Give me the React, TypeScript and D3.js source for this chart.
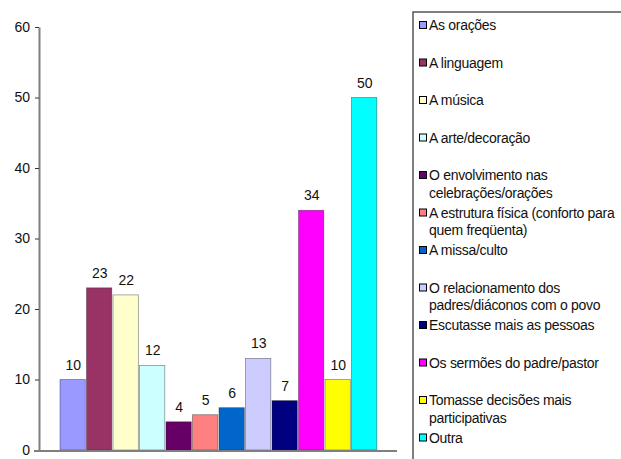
import React, { useEffect, useRef } from 'react';
import * as d3 from 'd3';

const categories = [
  'As orações',
  'A linguagem',
  'A música',
  'A arte/decoração',
  'O envolvimento nas celebrações/orações',
  'A estrutura física (conforto para quem freqüenta)',
  'A missa/culto',
  'O relacionamento dos padres/diáconos com o povo',
  'Escutasse mais as pessoas',
  'Os sermões do padre/pastor',
  'Tomasse decisões mais participativas',
  'Outra',
];
const legendLines = [
  ['As orações'],
  ['A linguagem'],
  ['A música'],
  ['A arte/decoração'],
  ['O envolvimento nas', 'celebrações/orações'],
  ['A estrutura física (conforto para', 'quem freqüenta)'],
  ['A missa/culto'],
  ['O relacionamento dos', 'padres/diáconos com o povo'],
  ['Escutasse mais as pessoas'],
  ['Os sermões do padre/pastor'],
  ['Tomasse decisões mais', 'participativas'],
  ['Outra'],
];
const values = [10, 23, 22, 12, 4, 5, 6, 13, 7, 34, 10, 50];
const colors = [
  '#9999FF', '#993366', '#FFFFCC', '#CCFFFF', '#660066', '#FF8080',
  '#0066CC', '#CCCCFF', '#000080', '#FF00FF', '#FFFF00', '#00FFFF',
];
const yTicks = [0, 10, 20, 30, 40, 50, 60];

const W = 621;
const H = 459;
const FONT = '"Liberation Sans", Arial, sans-serif';

const App: React.FC = () => {
  const svgRef = useRef<SVGSVGElement>(null);

  useEffect(() => {
    if (!svgRef.current) return;
    const svg = d3.select(svgRef.current);
    svg.selectAll('*').remove();

    const x = d3.scaleBand<string>().domain(categories).range([60, 378]).padding(0);
    const y = d3.scaleLinear().domain([0, 60]).range([450, 27]);

    // bars
    svg.append('g')
      .selectAll('rect')
      .data(values)
      .enter()
      .append('rect')
      .attr('x', (d, i) => x(categories[i]) || 0)
      .attr('y', d => y(d))
      .attr('width', x.bandwidth() - 1.2)
      .attr('height', d => y(0) - y(d))
      .attr('fill', (d, i) => colors[i])
      .attr('stroke', '#222')
      .attr('stroke-opacity', 0.55)
      .attr('stroke-width', 0.7);

    // value labels
    svg.append('g')
      .selectAll('text')
      .data(values)
      .enter()
      .append('text')
      .attr('x', (d, i) => (x(categories[i]) || 0) + x.bandwidth() / 2)
      .attr('y', d => y(d) - 10)
      .attr('text-anchor', 'middle')
      .attr('font-family', FONT)
      .attr('font-size', 14)
      .attr('fill', '#111')
      .text(d => d);

    // y axis
    const yAxis = svg.append('g')
      .attr('transform', 'translate(39,0)')
      .call(d3.axisLeft(y).tickValues(yTicks).tickSize(4).tickPadding(5).tickSizeOuter(0));
    yAxis.select('.domain').attr('stroke', '#7f7f7f').attr('stroke-width', 2);
    yAxis.selectAll('.tick line').attr('stroke', '#333');
    yAxis.selectAll('.tick text')
      .attr('font-family', FONT)
      .attr('font-size', 14)
      .attr('fill', '#111');

    // x axis line
    svg.append('line')
      .attr('x1', 34).attr('x2', 397)
      .attr('y1', y(0) + 1).attr('y2', y(0) + 1)
      .attr('stroke', '#7f7f7f')
      .attr('stroke-width', 2);

    // legend box
    svg.append('path')
      .attr('d', `M${W + 2},12 H413 V${H + 2}`)
      .attr('fill', 'none')
      .attr('stroke', '#555')
      .attr('stroke-width', 1.5);

    const legend = svg.append('g');
    const item = legend.selectAll('g')
      .data(legendLines)
      .enter()
      .append('g')
      .attr('transform', (d, i) => `translate(0,${25 + i * 37.5})`);
    item.append('rect')
      .attr('x', 419.5).attr('y', -3.5)
      .attr('width', 7).attr('height', 7)
      .attr('fill', (d, i) => colors[i])
      .attr('stroke', '#000')
      .attr('stroke-width', 1);
    item.append('text')
      .attr('font-family', FONT)
      .attr('font-size', 14)
      .attr('letter-spacing', -0.3)
      .attr('fill', '#111')
      .selectAll('tspan')
      .data(d => d)
      .enter()
      .append('tspan')
      .attr('x', 429)
      .attr('y', (d, j) => 5 + j * 17.5)
      .text(d => d);
  }, []);

  return (
    <svg
      ref={svgRef}
      width={W}
      height={H}
      viewBox={`0 0 ${W} ${H}`}
      style={{ position: 'absolute', left: 0, top: 0, background: '#fff' }}
    />
  );
};

export default App;
